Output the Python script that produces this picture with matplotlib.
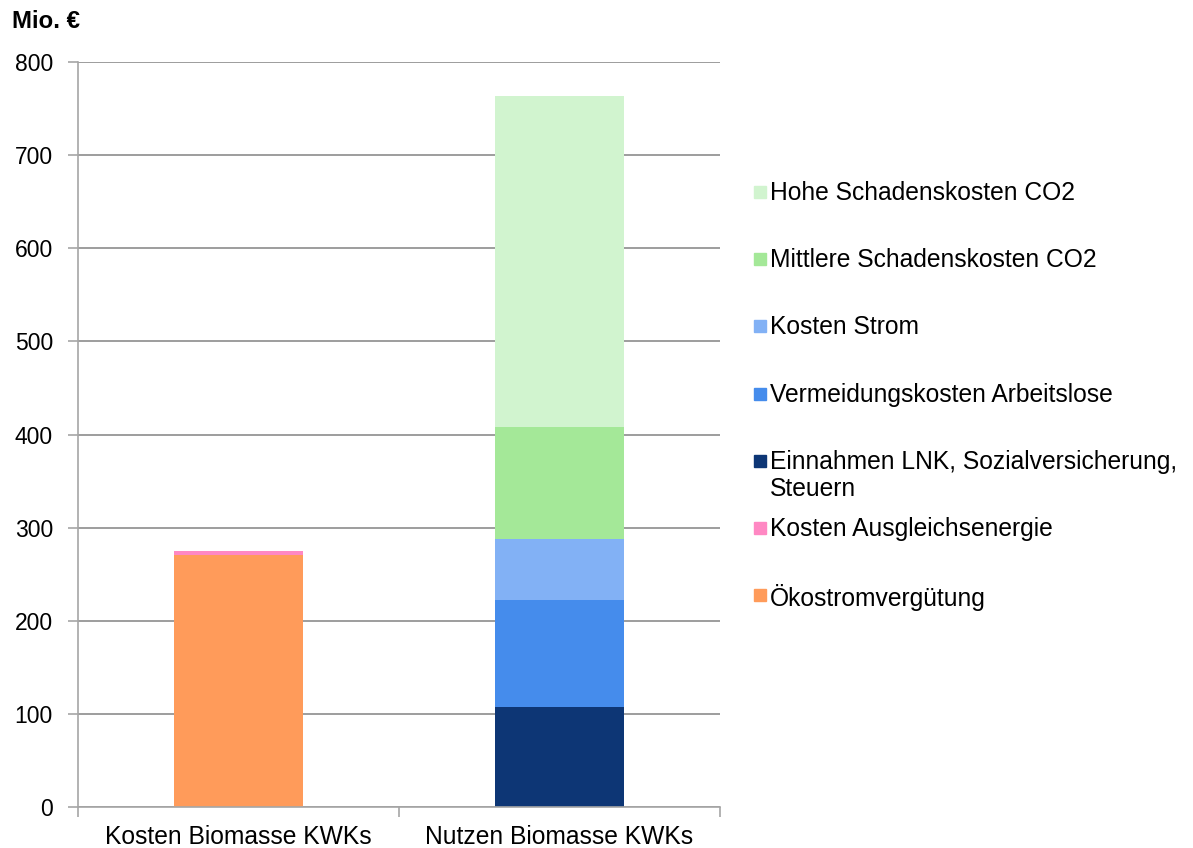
import matplotlib.pyplot as plt
from matplotlib.patches import Rectangle

plt.rcParams['font.family'] = ['Liberation Sans', 'DejaVu Sans']

categories = ['Kosten Biomasse KWKs', 'Nutzen Biomasse KWKs']

# stack order, bottom to top
series_names = [
  'Ökostromvergütung',
  'Kosten Ausgleichsenergie',
  'Einnahmen LNK, Sozialversicherung,\nSteuern',
  'Vermeidungskosten Arbeitslose',
  'Kosten Strom',
  'Mittlere Schadenskosten CO2',
  'Hohe Schadenskosten CO2',
]
series_values = [
  [271, 0],
  [4, 0],
  [0, 107],
  [0, 115],
  [0, 66],
  [0, 120],
  [0, 355],
]
series_colors = ['#FF9B5A', '#FF88C3', '#0D3675', '#458CEC', '#82B1F5', '#A4E898', '#D1F4CF']

y_ticks = list(range(0, 801, 100))

fig = plt.figure(figsize=(11.93, 8.48), dpi=100)
ax = fig.add_axes([78/1193, 1 - 807/848, (720 - 78)/1193, (807 - 62)/848])

x = list(range(len(categories)))
bottom = [0] * len(categories)
for name, vals, color in zip(series_names, series_values, series_colors):
  ax.bar(x, vals, width=0.4, bottom=bottom, color=color, label=name, zorder=2)
  bottom = [b + v for b, v in zip(bottom, vals)]

ax.set_xlim(-0.5, 1.5)
ax.set_ylim(0, 800)
ax.set_yticks(y_ticks)
ax.set_yticklabels([str(t) for t in y_ticks], fontsize=16.5)
ax.yaxis.grid(True, color='#8C8C8C', linewidth=1.2, zorder=0)
ax.set_axisbelow(True)

# category labels between boundary ticks
ax.set_xticks([-0.5, 0.5, 1.5])
ax.set_xticklabels([])
ax.set_xticks(x, minor=True)
ax.set_xticklabels(categories, minor=True, fontsize=17.7)
ax.tick_params(axis='x', which='minor', length=0, pad=13)
ax.tick_params(axis='x', which='major', length=7, color='#A6A6A6', width=1.2)
ax.tick_params(axis='y', length=7, color='#A6A6A6', width=1.2, pad=11)

for side in ['top', 'right']:
  ax.spines[side].set_visible(False)
for side in ['left', 'bottom']:
  ax.spines[side].set_color('#A6A6A6')
  ax.spines[side].set_linewidth(1.2)

fig.text(12/1193, 1 - 22/848, 'Mio. €', fontsize=17.3, fontweight='bold', va='center', ha='left')

# legend, drawn top to bottom in reverse stack order
legend_top = 192
legend_step = 67.2
for i, (name, color) in enumerate(zip(series_names[::-1], series_colors[::-1])):
  yc = legend_top + i * legend_step
  fig.add_artist(Rectangle((754/1193, 1 - (yc + 6)/848), 12/1193, 12/848,
                           transform=fig.transFigure, color=color))
  fig.text(770/1193, 1 - (yc - 11)/848, name, fontsize=17.7, va='top', ha='left',
           linespacing=1.15)

fig.savefig('out.png', dpi=100)
